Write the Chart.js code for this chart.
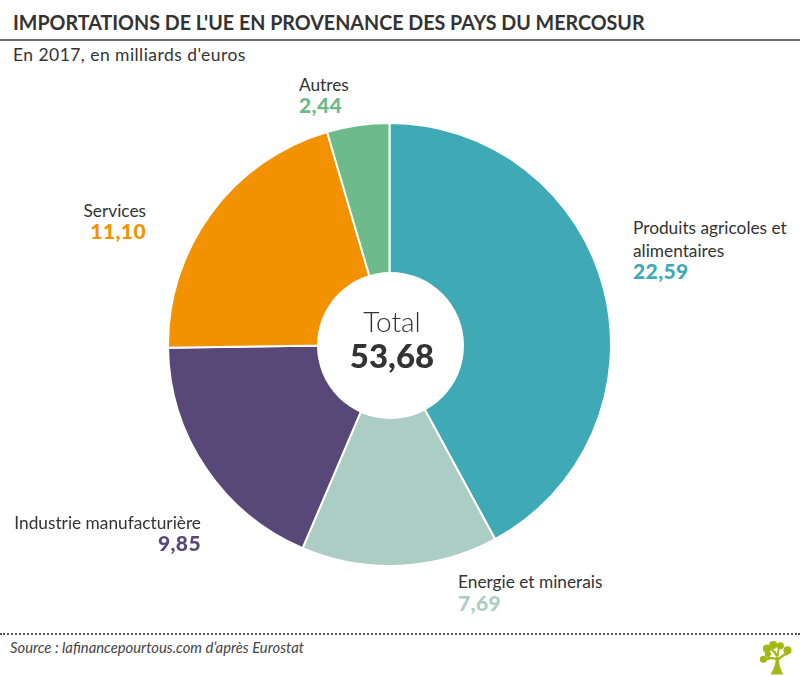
<!DOCTYPE html>
<html lang="fr"><head><meta charset="utf-8">
<script src="https://cdn.jsdelivr.net/npm/chart.js@4"></script>
<style>
html,body{margin:0;padding:0;background:#fff;width:800px;height:676px;overflow:hidden}
body{position:relative;font-family:Lato,sans-serif;color:#333}
#wrap{position:absolute;left:167px;top:122px;width:445px;height:445px}
.t{position:absolute;white-space:nowrap;line-height:1}
.lab{font-size:17.3px;color:#333}
.val{font-size:21px;font-weight:900;letter-spacing:.4px}
#rule{position:absolute;left:0;top:39px;width:800px;height:2px;background:#6f6f6f}
#dots{position:absolute;left:0;top:633px;width:800px;border-top:2px dotted #555}
#hole{position:absolute;left:317px;top:272px;width:147px;height:147px;border-radius:50%;background:#fff}
</style></head><body>
<div class="t" id="title" style="left:13px;top:12px;font-size:21.5px;font-weight:700;color:#333;transform-origin:0 0;transform:scaleX(.915)"></div>
<div id="rule"></div>
<div class="t" id="sub" style="left:13px;top:46px;font-size:17.5px;letter-spacing:.45px"></div>
<div id="wrap"><canvas id="c" width="445" height="445"></canvas></div>
<div id="hole"></div>
<div id="labels"></div>
<div class="t" id="tl" style="left:290px;width:204px;text-align:center;top:307px;font-size:28px;font-weight:300"></div>
<div class="t" id="tv" style="left:290px;width:204px;text-align:center;top:339px;font-size:33px;font-weight:900"></div>
<div id="dots"></div>
<div class="t" id="src" style="left:10px;top:640px;font-size:14.8px;font-style:italic;color:#444"></div>
<svg style="position:absolute;left:758px;top:639px" width="34" height="37" viewBox="0 0 38 38" fill="#a4b814">
<path d="M14 38 C18 32 20 26 20 18 L23 18 C23 26 25 32 28 38 Z"/>
<path d="M20 22 C16 20 12 21 8 23 L7 20 C12 18 16 18 20 19 Z"/>
<path d="M22 20 C26 16 29 14 33 13 L34 16 C30 17 26 19 23 23 Z"/>
<path d="M20 18 C18 14 16 11 12 10 L14 8 C18 10 21 13 22 17 Z"/>
<path d="M21 17 L22 8 L24 8 L23 18 Z"/>
<circle cx="10" cy="9" r="4.5"/><circle cx="6" cy="21" r="4"/><circle cx="11" cy="15" r="3.5"/>
<circle cx="17" cy="5" r="4.5"/><circle cx="25" cy="6" r="4"/><circle cx="33" cy="11" r="4.5"/>
</svg>
<script>
const titleText = "IMPORTATIONS DE L'UE EN PROVENANCE DES PAYS DU MERCOSUR";
const subtitleText = "En 2017, en milliards d'euros";
const sourceText = "Source : lafinancepourtous.com d’après Eurostat";
const totalLabel = "Total";
const totalValue = "53,68";
const categories = ["Produits agricoles et alimentaires","Energie et minerais","Industrie manufacturière","Services","Autres"];
const values = [22.59,7.69,9.85,11.10,2.44];
const valueLabels = ["22,59","7,69","9,85","11,10","2,44"];
const colors = ["#3FA9B5","#ABCDC4","#584878","#F39200","#6DBA8A"];

document.getElementById('title').textContent = titleText;
document.getElementById('sub').textContent = subtitleText;
document.getElementById('src').textContent = sourceText;
document.getElementById('tl').textContent = totalLabel;
document.getElementById('tv').textContent = totalValue;

const places = [
 {x:633,y:219,v:260,lines:["Produits agricoles et","alimentaires"],lh:23},
 {x:458,y:573,v:592,lines:["Energie et minerais"]},
 {r:201,y:514,v:532,lines:["Industrie manufacturière"]},
 {r:146,y:202,v:220,lines:["Services"]},
 {x:299,y:76,v:94,lines:["Autres"]}
];
const host = document.getElementById('labels');
places.forEach((p,i)=>{
  p.lines.forEach((line,k)=>{
    const d=document.createElement('div');d.className='t lab';d.textContent=line;
    d.style.top=(p.y+k*(p.lh||0))+'px';
    if(p.r!==undefined)d.style.right=(800-p.r)+'px';else d.style.left=p.x+'px';
    host.appendChild(d);
  });
  const v=document.createElement('div');v.className='t val';v.textContent=valueLabels[i];
  v.style.top=p.v+'px';v.style.color=colors[i];
  if(p.r!==undefined)v.style.right=(800-p.r)+'px';else v.style.left=p.x+'px';
  host.appendChild(v);
});

new Chart(document.getElementById('c'),{
  type:'doughnut',
  data:{labels:categories,datasets:[{data:values,backgroundColor:colors,borderColor:'#fff',borderWidth:2,borderAlign:'center',borderJoinStyle:'miter'}]},
  options:{responsive:false,animation:false,cutout:'30%',rotation:0,
    layout:{padding:0},
    plugins:{legend:{display:false},tooltip:{enabled:false},title:{display:false}}}
});
</script>
</body></html>
